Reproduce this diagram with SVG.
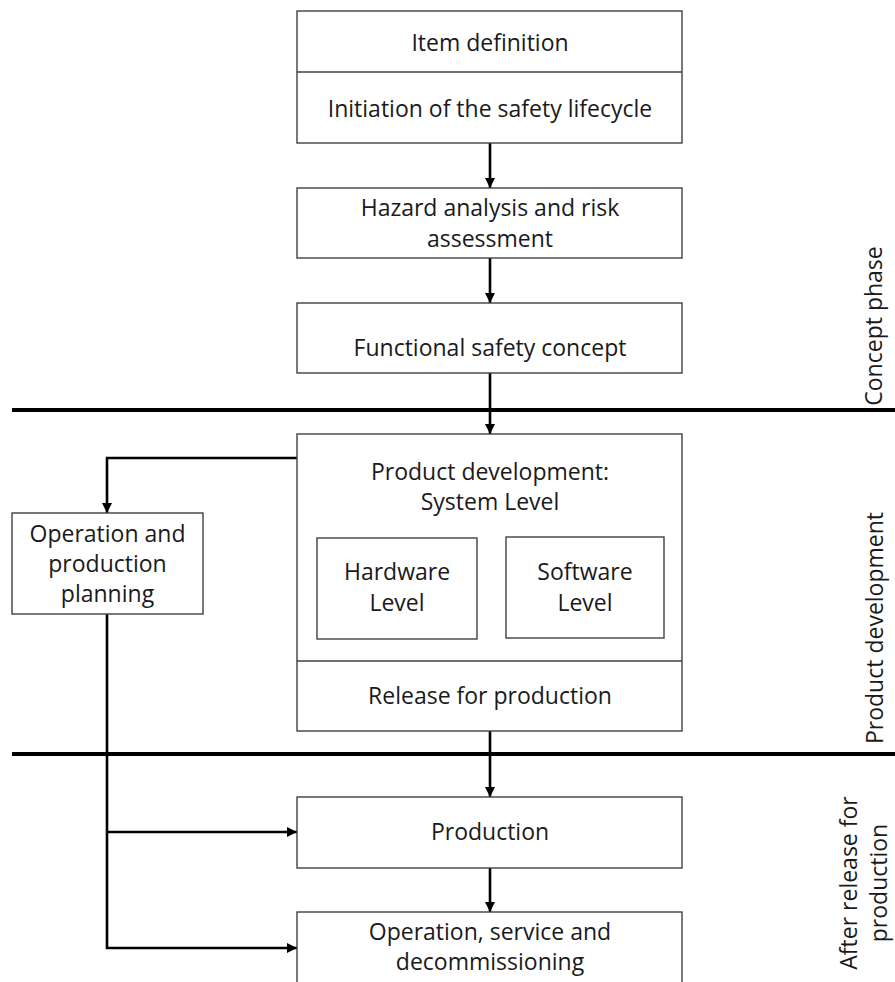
<svg xmlns="http://www.w3.org/2000/svg" width="895" height="982" viewBox="0 0 895 982">
  <style>
    .box { fill: #ffffff; stroke: #404040; stroke-width: 1.4; }
    .div { stroke: #404040; stroke-width: 1.4; }
    .lbl { font-family: "Open Sans", "Liberation Sans", sans-serif; font-size: 23px; fill: #1a1a1a; text-anchor: middle; }
    .conn { fill: none; stroke: #000000; stroke-width: 2.6; }
    .phase { stroke: #000000; stroke-width: 4; }
  </style>
  <defs>
    <marker id="arrow" markerUnits="userSpaceOnUse" markerWidth="12" markerHeight="12" viewBox="0 0 12 12" refX="11" refY="6" orient="auto">
      <path d="M1,1 L11,6 L1,11 Z" fill="#000000"/>
    </marker>
  </defs>
  <rect width="895" height="982" fill="#ffffff"/>

  <!-- phase separators -->
  <g id="phase-lines">
    <line class="phase" x1="12" y1="410" x2="895" y2="410"/>
    <line class="phase" x1="12" y1="754" x2="895" y2="754"/>
  </g>

  <!-- connectors -->
  <g id="connectors">
    <path class="conn" d="M490,143 V188" marker-end="url(#arrow)"/>
    <path class="conn" d="M490,258 V303" marker-end="url(#arrow)"/>
    <path class="conn" d="M490,373 V434" marker-end="url(#arrow)"/>
    <path class="conn" d="M297,458 H107 V513" marker-end="url(#arrow)"/>
    <path class="conn" d="M490,731 V797" marker-end="url(#arrow)"/>
    <path class="conn" d="M490,868 V912" marker-end="url(#arrow)"/>
    <path class="conn" d="M107,614 V948 H297" marker-end="url(#arrow)"/>
    <path class="conn" d="M107,832 H297" marker-end="url(#arrow)"/>
  </g>

  <g id="item-definition">
    <rect class="box" x="297" y="11" width="385" height="132"/>
    <line class="div" x1="297" y1="72" x2="682" y2="72"/>
    <text class="lbl" x="490" y="51">Item definition</text>
    <text class="lbl" x="490" y="117">Initiation of the safety lifecycle</text>
  </g>

  <g id="hazard-analysis">
    <rect class="box" x="297" y="188" width="385" height="70"/>
    <text class="lbl" x="490" y="216">Hazard analysis and risk</text>
    <text class="lbl" x="490" y="247">assessment</text>
  </g>

  <g id="functional-safety-concept">
    <rect class="box" x="297" y="303" width="385" height="70"/>
    <text class="lbl" x="490" y="356">Functional safety concept</text>
  </g>

  <g id="product-development">
    <rect class="box" x="297" y="434" width="385" height="297"/>
    <line class="div" x1="297" y1="661" x2="682" y2="661"/>
    <text class="lbl" x="490" y="480">Product development:</text>
    <text class="lbl" x="490" y="510">System Level</text>
    <text class="lbl" x="490" y="704">Release for production</text>
  </g>

  <g id="hardware-level">
    <rect class="box" x="317" y="538" width="160" height="101"/>
    <text class="lbl" x="397" y="580">Hardware</text>
    <text class="lbl" x="397" y="611">Level</text>
  </g>

  <g id="software-level">
    <rect class="box" x="506" y="537" width="158" height="101"/>
    <text class="lbl" x="585" y="580">Software</text>
    <text class="lbl" x="585" y="611">Level</text>
  </g>

  <g id="operation-production-planning">
    <rect class="box" x="12" y="513" width="191" height="101"/>
    <text class="lbl" x="107.5" y="542">Operation and</text>
    <text class="lbl" x="107.5" y="572">production</text>
    <text class="lbl" x="107.5" y="602">planning</text>
  </g>

  <g id="production">
    <rect class="box" x="297" y="797" width="385" height="71"/>
    <text class="lbl" x="490" y="840">Production</text>
  </g>

  <g id="operation-service">
    <rect class="box" x="297" y="912" width="385" height="80"/>
    <text class="lbl" x="490" y="940">Operation, service and</text>
    <text class="lbl" x="490" y="970">decommissioning</text>
  </g>

  <!-- phase labels -->
  <g id="phase-labels">
    <text class="lbl" transform="translate(882,326) rotate(-90)">Concept phase</text>
    <text class="lbl" transform="translate(883,628) rotate(-90)">Product development</text>
    <text class="lbl" transform="translate(857,883) rotate(-90)">After release for</text>
    <text class="lbl" transform="translate(887,883) rotate(-90)">production</text>
  </g>
</svg>
